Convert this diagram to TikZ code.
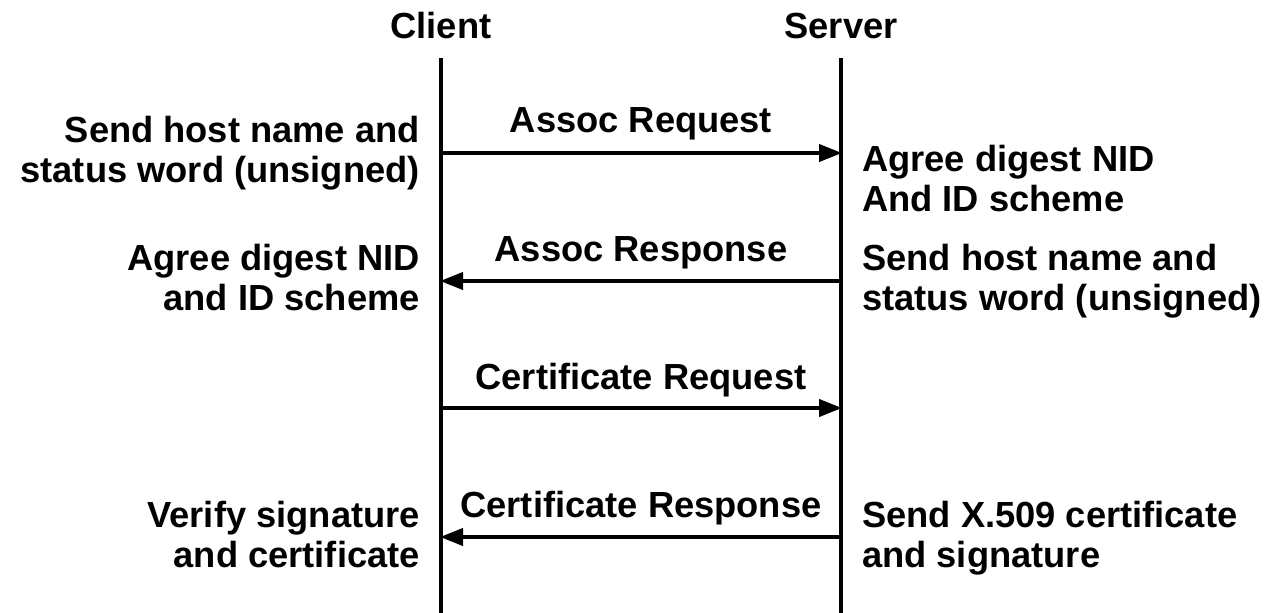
\documentclass[tikz,border=0pt]{standalone}
\usepackage{fontspec}
\setmainfont{Liberation Sans}
\usetikzlibrary{arrows.meta}
\begin{document}
\begin{tikzpicture}[x=1pt,y=-1pt,
  txt/.style={font=\fontsize{36.3}{40}\selectfont\bfseries, inner sep=0pt},
  lifeline/.style={line width=4pt},
  msg/.style={line width=4pt, -{Triangle[length=23pt,width=17pt]}, shorten >=-1pt}]
\useasboundingbox (0,0) rectangle (1272,613);
% headers
\node[txt, anchor=base] (client) at (441,38) {Client};
\node[txt, anchor=base] (server) at (841,38) {Server};
% lifelines
\coordinate (ctop) at (441,58);
\coordinate (cbot) at (441,613);
\coordinate (stop) at (841,58);
\coordinate (sbot) at (841,613);
\draw[lifeline] (ctop) -- (cbot);
\draw[lifeline] (stop) -- (sbot);
% message points
\coordinate (c1) at (441,153);
\coordinate (s1) at (841,153);
\coordinate (c2) at (441,281);
\coordinate (s2) at (841,281);
\coordinate (c3) at (441,408);
\coordinate (s3) at (841,408);
\coordinate (c4) at (441,537);
\coordinate (s4) at (841,537);
\draw[msg] (c1) -- (s1);
\draw[msg] (s2) -- (c2);
\draw[msg] (c3) -- (s3);
\draw[msg] (s4) -- (c4);
% message labels
\node[txt, anchor=base] (l1) at (641,132) {Assoc Request};
\node[txt, anchor=base] (l2) at (641,261) {Assoc Response};
\node[txt, anchor=base] (l3) at (641,389) {Certificate Request};
\node[txt, anchor=base] (l4) at (641,517) {Certificate Response};
% left notes
\node[txt, anchor=east, align=right] (n1) at (420,153) {Send host name and\\status word (unsigned)};
\node[txt, anchor=east, align=right] (n2) at (420,278) {Agree digest NID\\and ID scheme};
\node[txt, anchor=east, align=right] (n3) at (420,535) {Verify signature\\and certificate};
% right notes
\node[txt, anchor=west, align=left] (r1) at (862,179) {Agree digest NID\\And ID scheme};
\node[txt, anchor=west, align=left] (r2) at (862,281) {Send host name and\\status word (unsigned)};
\node[txt, anchor=west, align=left] (r3) at (862,538) {Send X.509 certificate\\and signature};
\end{tikzpicture}
\end{document}
